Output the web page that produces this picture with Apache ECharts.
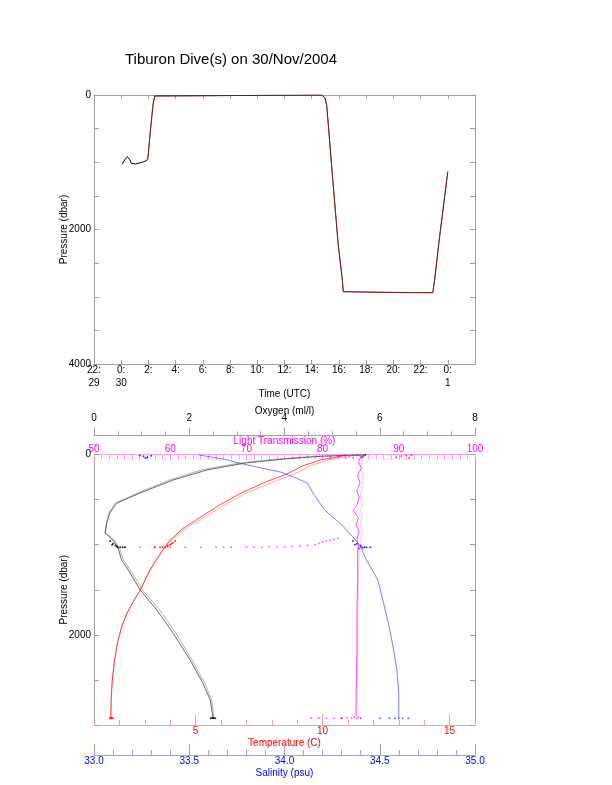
<!DOCTYPE html>
<html><head><meta charset="utf-8">
<script src="https://cdn.jsdelivr.net/npm/echarts@6/dist/echarts.min.js"></script>
<style>html,body{margin:0;padding:0;background:#fff}#c{width:612px;height:785px}</style>
</head><body><div id="c"></div>
<script>
// ---------- Top panel: dive pressure vs time (hours from 30/Nov 00:00 UTC) ----------
const diveHours = [0.08, 0.25, 0.45, 0.57, 0.64, 0.74, 1.05, 1.42, 1.66, 1.86, 1.96, 2.15, 2.35, 2.47, 2.57, 14.73, 14.97, 15.1, 15.22, 15.58, 15.95, 16.24, 16.32, 16.44, 19.5, 22.9, 23.03, 23.4, 23.77, 24.0];
const divePressure = [1026, 966, 917, 907, 966, 1016, 1026, 1006, 991, 976, 941, 520, 124, 15, 0, 0, 40, 149, 446, 1338, 2230, 2726, 2925, 2940, 2935, 2940, 2751, 2107, 1512, 1140];
const timeTickLabels = {'-2': '22:\n29', '0': '0:\n30', '24': '0:\n1'};

// ---------- Bottom panel: profiles vs pressure ----------
const tempPres = [5, 28, 61, 128, 216, 300, 427, 550, 693, 820, 948, 1060, 1170, 1281, 1400, 1503, 1630, 1758, 1900, 2090, 2300, 2501, 2700, 2923];
const tempDown = [10.9, 10.6, 9.9, 9.2, 8.6, 7.8, 6.8, 6.0, 5.2, 4.5, 4.0, 3.7, 3.45, 3.2, 3.0, 2.82, 2.55, 2.3, 2.1, 1.92, 1.8, 1.72, 1.68, 1.66];
const tempUp   = [11.2, 10.8, 10.2, 9.5, 8.9, 8.1, 7.0, 6.2, 5.35, 4.6, 4.05, 3.72, 3.47, 3.22, 3.0, 2.83, 2.56, 2.31, 2.1, 1.93, 1.8, 1.72, 1.68, 1.66];

const oxyPres = [5, 20, 50, 95, 172, 283, 427, 538, 650, 760, 870, 950, 1030, 1170, 1281, 1503, 1725, 1980, 2280, 2540, 2722, 2923];
const oxyDown = [5.65, 4.75, 4.0, 3.17, 2.37, 1.66, 0.97, 0.48, 0.33, 0.27, 0.23, 0.40, 0.50, 0.58, 0.72, 0.97, 1.32, 1.66, 2.02, 2.29, 2.44, 2.50];
const oxyUp   = [5.6, 4.6, 3.85, 3.05, 2.25, 1.58, 0.92, 0.45, 0.31, 0.26, 0.24, 0.42, 0.53, 0.62, 0.76, 1.02, 1.38, 1.72, 2.06, 2.33, 2.47, 2.52];

const salPres = [5, 30, 60, 95, 150, 195, 260, 317, 427, 520, 615, 760, 915, 1025, 1170, 1392, 1647, 1913, 2135, 2390, 2645, 2923];
const salVals = [33.55, 33.62, 33.7, 33.76, 33.88, 33.98, 34.06, 34.12, 34.15, 34.18, 34.21, 34.29, 34.36, 34.40, 34.43, 34.49, 34.52, 34.55, 34.57, 34.59, 34.60, 34.60];

const ltPres = [5, 30, 80, 150, 230, 320, 400, 480, 560, 620, 700, 780, 860, 940, 1000, 1100, 1400, 1800, 2200, 2600, 2900];
const ltDown = [84.8, 85.0, 84.7, 85.1, 84.6, 84.9, 84.5, 84.8, 84.5, 84.0, 84.7, 84.4, 84.8, 84.5, 84.7, 84.6, 84.6, 84.5, 84.5, 84.4, 84.4];
const ltUp   = [85.2, 85.3, 85.2, 84.9, 85.4, 85.2, 85.1, 84.9, 85.3, 85.0, 85.1, 84.9, 85.2, 85.0, 84.9, 84.8, 84.7, 84.6, 84.6, 84.5, 84.5];

// hover at ~1000 dbar (start of dive)
const ltHoverVals = [54, 56, 58, 60, 62, 64, 66, 67, 68, 70, 71, 72, 73, 74, 75, 76, 77, 78, 79, 79.5, 80, 80.5, 81, 81.5, 82];
const ltHoverPres = [1030, 1030, 1030, 1028, 1030, 1030, 1028, 1030, 1030, 1025, 1030, 1028, 1020, 1030, 1025, 1020, 1015, 1010, 1000, 985, 970, 960, 950, 940, 930];
const salHoverVals = [34.36, 34.38, 34.40, 34.42, 34.39, 34.41, 34.43, 34.45, 34.37, 34.40];
const salHoverPres = [960, 990, 1010, 1030, 1040, 1035, 1030, 1030, 1000, 1020];
const tempHoverVals = [3.4, 3.6, 3.8, 3.9, 4.0, 4.1, 4.2, 3.7, 3.9, 4.05];
const tempHoverPres = [1030, 1030, 1030, 1020, 1000, 980, 960, 1030, 1010, 990];
const oxyHoverVals = [0.34, 0.40, 0.45, 0.50, 0.55, 0.60, 0.65, 0.38, 0.48];
const oxyHoverPres = [960, 990, 1010, 1030, 1030, 1030, 1030, 1000, 1020];

// bottom of dive ~2925 dbar
const ltBottomVals = [78.5, 79.5, 80.5, 81.5, 82.5, 83.2, 83.8, 84.2, 84.5, 84.7];
const ltBottomPres = [2925, 2922, 2926, 2924, 2925, 2920, 2925, 2915, 2925, 2910];
const salBottomVals = [34.30, 34.40, 34.50, 34.55, 34.58, 34.60, 34.62, 34.65];
const salBottomPres = [2925, 2925, 2926, 2924, 2925, 2925, 2926, 2925];
const oxyBottomVals = [2.45, 2.48, 2.50, 2.52, 2.55];
const oxyBottomPres = [2925, 2920, 2925, 2922, 2925];
const tempBottomVals = [1.63, 1.66, 1.70, 1.75];
const tempBottomPres = [2925, 2925, 2924, 2925];

// near-surface samples
const salSurfVals = [33.24, 33.26, 33.28, 33.30, 33.27];
const salSurfPres = [10, 20, 30, 15, 40];
const tempSurfVals = [12.9, 13.1, 13.3, 13.5, 13.4];
const tempSurfPres = [30, 20, 10, 5, 40];
const oxySurfVals = [5.63, 5.66, 5.70];
const oxySurfPres = [30, 15, 2];
const ltSurfVals = [81, 82, 83, 83.5, 84, 84.5];
const ltSurfPres = [30, 20, 40, 25, 35, 10];

const zip = (a, b) => a.map((v, i) => [v, b[i]]);

const FONT = 'Liberation Sans';
const GRAY = '#a0a0a0';

function lineS(name, xi, vals, pres, color, op) {
  return { name, type: 'line', xAxisIndex: xi, yAxisIndex: 2, data: zip(vals, pres),
    showSymbol: false, symbol: 'none', silent: true,
    lineStyle: { color, width: 0.9, opacity: op } };
}
function dotS(name, xi, vals, pres, color) {
  return { name, type: 'scatter', xAxisIndex: xi, yAxisIndex: 2, data: zip(vals, pres),
    symbolSize: 2, silent: true, itemStyle: { color } };
}
const line = (color, extra) => Object.assign({ onZero: false, lineStyle: { color } }, extra || {});
const nm = (color) => ({ color, fontSize: 10 });

const option = {
  animation: false,
  textStyle: { fontFamily: FONT },
  graphic: [{ type: 'text', x: 231, y: 60, style: { text: 'Tiburon Dive(s) on 30/Nov/2004', fontSize: 15, fontFamily: FONT, fill: '#000', align: 'center', verticalAlign: 'middle' } }],
  grid: [
    { left: 94, top: 95, width: 381, height: 269 },
    { left: 94, top: 454.5, width: 381, height: 270.5 }
  ],
  xAxis: [
    { gridIndex: 0, type: 'value', position: 'bottom', min: -2, max: 26, interval: 2,
      axisLine: line(GRAY), axisTick: { inside: true, length: 4, lineStyle: { color: GRAY } },
      splitLine: { show: false },
      axisLabel: { color: '#000', fontSize: 10, margin: 0, lineHeight: 13, formatter: v => {
        if (timeTickLabels[String(v)] !== undefined) return timeTickLabels[String(v)];
        if (v >= 26) return '';
        return (((v % 24) + 24) % 24) + ':';
      } },
      name: 'Time (UTC)', nameLocation: 'middle', nameGap: 25, nameMoveOverlap: false, nameTextStyle: nm('#000') },
    { gridIndex: 0, type: 'value', position: 'top', min: -2, max: 26, interval: 2,
      axisLine: line(GRAY), axisTick: { inside: true, length: 4, lineStyle: { color: GRAY } },
      splitLine: { show: false }, axisLabel: { show: false } },
    // 2 temperature
    { gridIndex: 1, type: 'value', position: 'bottom', min: 1, max: 16, interval: 1,
      axisLine: line('#ff9a9a'), axisTick: { inside: true, length: 5, lineStyle: { color: '#ff9a9a' } },
      splitLine: { show: false },
      axisLabel: { color: '#ff0000', fontSize: 10, margin: 1, customValues: [5, 10, 15] },
      name: 'Temperature (C)', nameLocation: 'middle', nameGap: 13, nameMoveOverlap: false, nameTextStyle: nm('#ff0000') },
    // 3 temperature major ticks
    { gridIndex: 1, type: 'value', position: 'bottom', min: 1, max: 16, interval: 1,
      axisLine: { show: false, onZero: false }, axisTick: { inside: true, length: 11, customValues: [5, 10, 15], lineStyle: { color: '#ff9a9a' } },
      splitLine: { show: false }, axisLabel: { show: false } },
    // 4 salinity
    { gridIndex: 1, type: 'value', position: 'bottom', offset: 30, min: 33, max: 35, interval: 0.5,
      axisLine: line('#9a9aff'), axisTick: { inside: true, length: 11, lineStyle: { color: '#9a9aff' } },
      minorTick: { show: true, splitNumber: 5, length: 5, lineStyle: { color: '#9a9aff' } },
      splitLine: { show: false },
      axisLabel: { color: '#0000ff', fontSize: 10, margin: 1, formatter: v => v.toFixed(1) },
      name: 'Salinity (psu)', nameLocation: 'middle', nameGap: 13, nameMoveOverlap: false, nameTextStyle: nm('#0000ff') },
    // 5 light transmission
    { gridIndex: 1, type: 'value', position: 'top', min: 50, max: 100, interval: 10,
      axisLine: line('#ff9aff'), axisTick: { inside: true, length: 6, lineStyle: { color: '#ff9aff' } },
      minorTick: { show: true, splitNumber: 10, length: 5, lineStyle: { color: '#ff9aff' } },
      splitLine: { show: false },
      axisLabel: { color: '#ff00ff', fontSize: 10, margin: 0 },
      name: 'Light Transmission (%)', nameLocation: 'middle', nameGap: 8, nameMoveOverlap: false, nameTextStyle: nm('#ff00ff') },
    // 6 oxygen
    { gridIndex: 1, type: 'value', position: 'top', offset: 19, min: 0, max: 8, interval: 2,
      axisLine: line(GRAY), axisTick: { inside: false, length: 8, lineStyle: { color: GRAY } },
      minorTick: { show: true, splitNumber: 4, length: 4, lineStyle: { color: GRAY } },
      splitLine: { show: false },
      axisLabel: { color: '#000', fontSize: 10, margin: 12 },
      name: 'Oxygen (ml/l)', nameLocation: 'middle', nameGap: 19, nameMoveOverlap: false, nameTextStyle: nm('#000') }
  ],
  yAxis: [
    { gridIndex: 0, type: 'value', inverse: true, min: 0, max: 4000, interval: 500,
      axisLine: line(GRAY, { show: true }), axisTick: { show: true, inside: true, length: 5, lineStyle: { color: GRAY } },
      splitLine: { show: false },
      axisLabel: { color: '#000', fontSize: 10, margin: 3, formatter: v => (v % 2000 === 0 ? String(v) : '') },
      name: 'Pressure (dbar)', nameLocation: 'middle', nameGap: 25, nameRotate: 90, nameMoveOverlap: false, nameTextStyle: nm('#000') },
    { gridIndex: 0, type: 'value', position: 'right', inverse: true, min: 0, max: 4000, interval: 500,
      axisLine: line(GRAY, { show: true }), axisTick: { show: true, inside: true, length: 5, lineStyle: { color: GRAY } },
      splitLine: { show: false }, axisLabel: { show: false } },
    { gridIndex: 1, type: 'value', inverse: true, min: 0, max: 3000, interval: 500,
      axisLine: line(GRAY, { show: true }), axisTick: { show: true, inside: true, length: 5, lineStyle: { color: GRAY } },
      splitLine: { show: false },
      axisLabel: { color: '#000', fontSize: 10, margin: 3, formatter: v => (v % 2000 === 0 ? String(v) : '') },
      name: 'Pressure (dbar)', nameLocation: 'middle', nameGap: 25, nameRotate: 90, nameMoveOverlap: false, nameTextStyle: nm('#000') },
    { gridIndex: 1, type: 'value', position: 'right', inverse: true, min: 0, max: 3000, interval: 500,
      axisLine: line(GRAY, { show: true }), axisTick: { show: true, inside: true, length: 5, lineStyle: { color: GRAY } },
      splitLine: { show: false }, axisLabel: { show: false } }
  ],
  series: [
    { name: 'Pressure', type: 'line', xAxisIndex: 0, yAxisIndex: 0, data: zip(diveHours, divePressure),
      showSymbol: false, symbol: 'none', silent: true, lineStyle: { color: '#000', width: 1 } },
    { name: 'Pressure (ROV)', type: 'line', xAxisIndex: 0, yAxisIndex: 0, data: zip(diveHours, divePressure).slice(10),
      showSymbol: false, symbol: 'none', silent: true, lineStyle: { color: '#e03030', width: 1, opacity: 0.55 } },

    lineS('Oxygen down', 6, oxyDown, oxyPres, '#000', 0.65),
    lineS('Oxygen up', 6, oxyUp, oxyPres, '#555', 0.5),
    lineS('Temperature down', 2, tempDown, tempPres, '#ff0000', 0.8),
    lineS('Temperature up', 2, tempUp, tempPres, '#ff3030', 0.45),
    lineS('Salinity', 4, salVals, salPres, '#3030ff', 0.7),
    lineS('Light Transmission down', 5, ltDown, ltPres, '#ff00ff', 0.8),
    lineS('Light Transmission up', 5, ltUp, ltPres, '#ff60ff', 0.45),

    dotS('LT hover', 5, ltHoverVals, ltHoverPres, '#ff40ff'),
    dotS('Sal hover', 4, salHoverVals, salHoverPres, '#0000ff'),
    dotS('Temp hover', 2, tempHoverVals, tempHoverPres, '#ff0000'),
    dotS('Oxy hover', 6, oxyHoverVals, oxyHoverPres, '#000'),
    dotS('LT bottom', 5, ltBottomVals, ltBottomPres, '#ff40ff'),
    dotS('Sal bottom', 4, salBottomVals, salBottomPres, '#4040ff'),
    dotS('Oxy bottom', 6, oxyBottomVals, oxyBottomPres, '#000'),
    dotS('Temp bottom', 2, tempBottomVals, tempBottomPres, '#ff0000'),
    dotS('Sal surface', 4, salSurfVals, salSurfPres, '#0000ff'),
    dotS('Temp surface', 2, tempSurfVals, tempSurfPres, '#ff2020'),
    dotS('Oxy surface', 6, oxySurfVals, oxySurfPres, '#000'),
    dotS('LT surface', 5, ltSurfVals, ltSurfPres, '#ff40ff')
  ]
};
const chart = echarts.init(document.getElementById('c'), null, { renderer: 'canvas' });
chart.setOption(option);
</script>
</body></html>
